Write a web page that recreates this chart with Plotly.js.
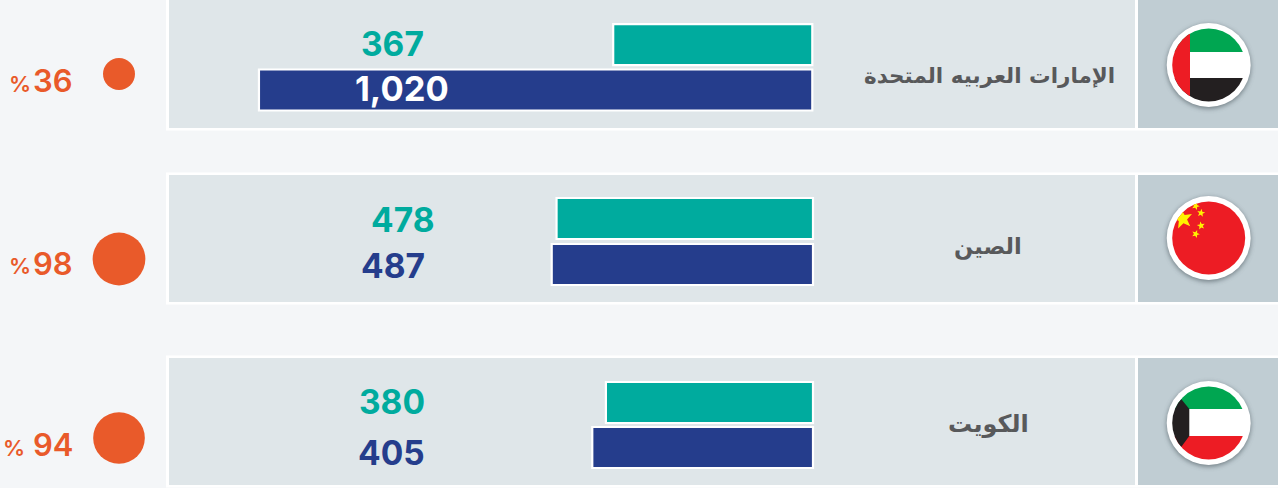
<!DOCTYPE html>
<html><head><meta charset="utf-8">
<script src="https://cdn.plot.ly/plotly-3.0.1.min.js"></script>
<style>html,body{margin:0;padding:0;background:#f4f6f8;overflow:hidden}#chart{width:1278px;height:488px}</style>
</head><body><div id="chart"></div>
<script>
// ---- data ----
const countries = ["الإمارات العربيه المتحدة", "الصين", "الكويت"];
const seriesTeal = [367, 478, 380];
const seriesNavy = [1020, 487, 405];
const percent = [36, 98, 94];

// ---- layout constants (pixels) ----
const W = 1278, H = 488;
const zeroPx = [812.3, 813, 813], pxPerUnit = [0.5425, 0.5365, 0.545];
const rowTop = [0, 175, 358], rowBottom = [128, 302, 485];
const tealY = [44.7, 218.5, 402.5], navyY = [90, 264.5, 447.5];
const bubbleY = [74, 259, 438], bubbleX = 119;
const flagX = 1208.7, flagY = [65, 238, 423];
const nameX = [989, 988, 988], nameY = [75, 246, 424], nameSize = [21.5, 22.5, 24];
const tealLabelRight = [426, 436, 427], tealLabelY = [43.5, 219.5, 401.5];
const navyLabelRight = [451, 426.5, 426.5], navyLabelY = [88.5, 266, 452.5];
const pctDigitY = [80.5, 263, 444.5], pctSignRight = [33, 33, 27];
const TEAL = "#00ab9e", NAVY = "#253d8c", ORANGE = "#e95a2a", GREY = "#58595b";
const NUMFONT = "Inter, 'Noto Sans', sans-serif";

function flagSvg(body) {
  const svg = `<svg xmlns="http://www.w3.org/2000/svg" width="110" height="110" viewBox="-55 -55 110 110">
<defs><clipPath id="c"><circle r="36.5"/></clipPath>
<filter id="b" x="-30%" y="-30%" width="160%" height="160%"><feGaussianBlur stdDeviation="2.6"/></filter></defs>
<circle r="42" cy="1.5" fill="#4d5a60" opacity="0.7" filter="url(#b)"/>
<circle r="42" fill="#fff"/><g clip-path="url(#c)">${body}</g></svg>`;
  return "data:image/svg+xml;base64," + btoa(svg);
}
function star(x, y, r, rot) {
  let p = [];
  for (let i = 0; i < 10; i++) {
    const a = (rot - 90 + i * 36) * Math.PI / 180, q = i % 2 ? r * 0.42 : r;
    p.push((x + q * Math.cos(a)).toFixed(2) + "," + (y + q * Math.sin(a)).toFixed(2));
  }
  return `<polygon fill="#fff200" points="${p.join(" ")}"/>`;
}
const flagBodies = [
  `<rect x="-40" y="-40" width="80" height="27" fill="#00a651"/><rect x="-40" y="-13" width="80" height="26" fill="#fff"/><rect x="-40" y="13" width="80" height="27" fill="#231f20"/><rect x="-40" y="-40" width="21.3" height="80" fill="#ed1c24"/>`,
  `<rect x="-40" y="-40" width="80" height="80" fill="#ed1c24"/>` + star(-26, -19, 10.5, -10) + star(-13, -32, 4.2, 20) + star(-7.7, -25, 4.2, 10) + star(-7.7, -12.3, 4.2, -10) + star(-13, -4, 4.2, 20),
  `<rect x="-40" y="-40" width="80" height="26" fill="#00a651"/><rect x="-40" y="-14" width="80" height="27" fill="#fff"/><rect x="-40" y="13" width="80" height="27" fill="#ed1c24"/><polygon fill="#231f20" points="-27.5,-24 -19.4,-14 -19.4,13 -27.5,24 -40,24 -40,-24"/>`
];

// ---- panels ----
const shapes = [];
rowTop.forEach((t, i) => {
  const b = rowBottom[i];
  shapes.push({type:"rect", xref:"x2", yref:"y", x0:166, x1:W, y0:t-2.5, y1:b+2.5, fillcolor:"#fff", line:{width:0}, layer:"below"});
  shapes.push({type:"rect", xref:"x2", yref:"y", x0:169, x1:1135, y0:t, y1:b, fillcolor:"#dfe6e9", line:{width:0}, layer:"below"});
  shapes.push({type:"rect", xref:"x2", yref:"y", x0:1138, x1:W, y0:t, y1:b, fillcolor:"#c0cdd3", line:{width:0}, layer:"below"});
});

// ---- labels ----
const fmt = v => v.toLocaleString("en-US");
const ann = (text, x, y, size, color, anchor, weight) => ({text, x, y, xref:"x2", yref:"y", xanchor:anchor, yanchor:"middle", showarrow:false,
  font:{family:NUMFONT, size, color, weight:weight||700}});
const annotations = [];
countries.forEach((c, i) => {
  const big = seriesNavy[i] > 1000;
  annotations.push({text:c, x:nameX[i], y:nameY[i], xref:"x2", yref:"y", xanchor:"center", yanchor:"middle", showarrow:false,
    font:{family:"'DejaVu Sans', sans-serif", size:nameSize[i], color:GREY, weight:700}});
  annotations.push(ann(fmt(seriesTeal[i]), tealLabelRight[i], tealLabelY[i], 33.5, TEAL, "right"));
  annotations.push(ann(fmt(seriesNavy[i]), navyLabelRight[i], navyLabelY[i], big ? 34.5 : 33.5, big ? "#fff" : NAVY, "right"));
  annotations.push(ann(String(percent[i]), 75, pctDigitY[i], 31, ORANGE, "right", 600));
  annotations.push(ann("%", pctSignRight[i], pctDigitY[i] + 3, 22, ORANGE, "right", 600));
});

const images = flagBodies.map((b, i) => ({source:flagSvg(b), xref:"x2", yref:"y", x:flagX-55, y:flagY[i]-55, sizex:110, sizey:110,
  xanchor:"left", yanchor:"top", sizing:"stretch", layer:"above"}));

const axisIds = ["x", "x3", "x4"];
const data = countries.map((c, i) => ({type:"bar", orientation:"h", xaxis:axisIds[i], yaxis:"y",
  x:[seriesTeal[i], seriesNavy[i]], y:[tealY[i], navyY[i]], width:41,
  marker:{color:[TEAL, NAVY], line:{color:"#fff", width:2.2}}, hoverinfo:"x", showlegend:false}));
data.push({type:"scatter", mode:"markers", xaxis:"x2", yaxis:"y", x:percent.map(() => bubbleX), y:bubbleY,
  marker:{size:percent, sizemode:"area", sizeref:1/14.2, opacity:1, color:ORANGE, line:{width:0}}, hoverinfo:"text", text:percent.map(p => p + "%"), showlegend:false});

const rowRange = i => [zeroPx[i]/pxPerUnit[i], (zeroPx[i]-W)/pxPerUnit[i]];
const layout = {
  width:W, height:H, margin:{l:0,r:0,t:0,b:0}, paper_bgcolor:"#f4f6f8", plot_bgcolor:"#f4f6f8",
  barmode:"overlay", showlegend:false,
  xaxis:{visible:false, fixedrange:true, domain:[0,1], range:rowRange(0)},
  xaxis2:{visible:false, fixedrange:true, overlaying:"x", domain:[0,1], range:[0,W]},
  xaxis3:{visible:false, fixedrange:true, overlaying:"x", domain:[0,1], range:rowRange(1)},
  xaxis4:{visible:false, fixedrange:true, overlaying:"x", domain:[0,1], range:rowRange(2)},
  yaxis:{visible:false, fixedrange:true, domain:[0,1], range:[H,0]},
  shapes, annotations, images
};
Plotly.newPlot("chart", data, layout, {displayModeBar:false, responsive:false});
</script></body></html>
